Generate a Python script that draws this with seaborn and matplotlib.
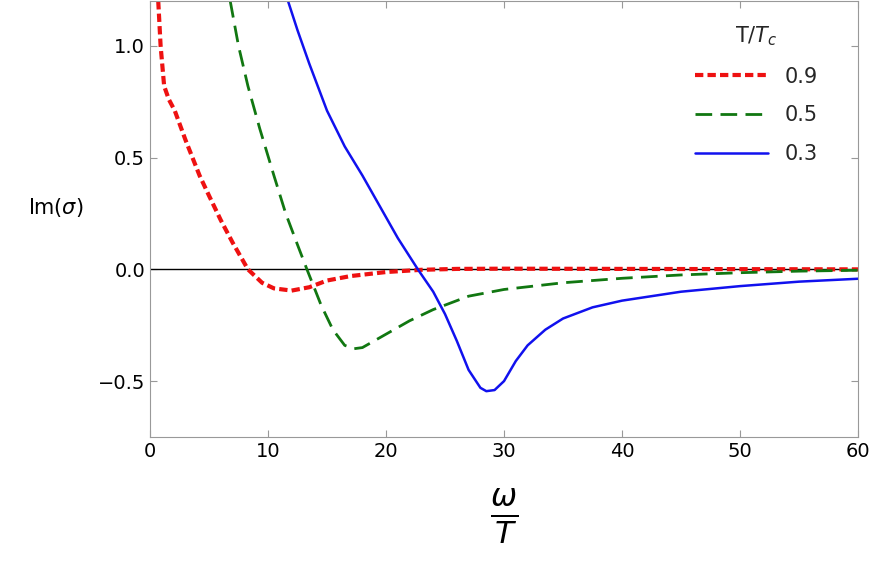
import matplotlib
matplotlib.use("Agg")
import matplotlib.pyplot as plt
import seaborn as sns
import pandas as pd

x_09 = [0.7, 0.9, 1.2, 1.6, 2.1, 3.0, 4.2, 5.0, 6.0, 7.0, 8.3, 9.5, 10.5, 12.0, 13.5, 15.0, 17.0, 20.0, 23.0, 26.0, 30, 40, 50, 60]
y_09 = [1.2, 1.0, 0.82, 0.76, 0.71, 0.58, 0.42, 0.33, 0.22, 0.12, 0.0, -0.06, -0.085, -0.095, -0.08, -0.05, -0.03, -0.012, -0.002, 0.002, 0.003, 0.002, 0.001, 0.0]
x_05 = [6.8, 7.5, 8.3, 9.3, 10.5, 11.5, 12.5, 13.3, 14.5, 15.5, 16.5, 17.3, 18.0, 19.0, 20.0, 22.0, 24.0, 27.0, 30.0, 35.0, 40.0, 45.0, 50.0, 55.0, 60.0]
y_05 = [1.2, 1.0, 0.82, 0.63, 0.42, 0.25, 0.11, 0.0, -0.16, -0.27, -0.34, -0.355, -0.35, -0.32, -0.29, -0.23, -0.18, -0.12, -0.09, -0.06, -0.04, -0.025, -0.015, -0.008, -0.004]
x_03 = [11.7, 12.5, 13.5, 15.0, 16.5, 18.0, 19.5, 21.0, 22.7, 24.0, 25.0, 26.0, 27.0, 28.0, 28.5, 29.2, 30.0, 31.0, 32.0, 33.5, 35.0, 37.5, 40.0, 45.0, 50.0, 55.0, 60.0]
y_03 = [1.2, 1.07, 0.92, 0.71, 0.55, 0.42, 0.28, 0.14, 0.0, -0.1, -0.2, -0.32, -0.45, -0.53, -0.545, -0.54, -0.5, -0.41, -0.34, -0.27, -0.22, -0.17, -0.14, -0.1, -0.075, -0.055, -0.042]

sns.set_style("white")
fig, ax = plt.subplots(figsize=(8.72, 5.69), dpi=100)
fig.subplots_adjust(left=0.172, right=0.984, top=0.998, bottom=0.232)

ax.axhline(0, color="black", lw=1)
sns.lineplot(x=x_09, y=y_09, ax=ax, color="#ee1111", lw=3, linestyle=(0, (2, 1)), label="0.9")
sns.lineplot(x=x_05, y=y_05, ax=ax, color="#117711", lw=2, linestyle=(0, (6, 3)), label="0.5")
sns.lineplot(x=x_03, y=y_03, ax=ax, color="#1111ee", lw=1.8, label="0.3")

ax.set_xlim(0, 60)
ax.set_ylim(-0.75, 1.2)
ax.set_xticks([0, 10, 20, 30, 40, 50, 60])
ax.set_yticks([-0.5, 0.0, 0.5, 1.0])
ax.set_yticklabels(["−0.5", "0.0", "0.5", "1.0"])
ax.tick_params(labelsize=14, direction="in", length=5, left=True, bottom=True, top=True, right=True,
               labelcolor="black", colors="#999999")
ax.set_xlabel(r"$\frac{\omega}{T}$", fontsize=32, labelpad=18, color="black")
ax.set_ylabel(r"Im($\sigma$)", fontsize=15, rotation=0, labelpad=30, color="black")
for s in ax.spines.values():
    s.set_color("#999999")
leg = ax.legend(title=r"T/$T_c$", loc="upper right", frameon=False, fontsize=15, title_fontsize=15,
                handlelength=3.5, labelspacing=0.9, bbox_to_anchor=(0.97, 0.99))
fig.savefig("out.png")
